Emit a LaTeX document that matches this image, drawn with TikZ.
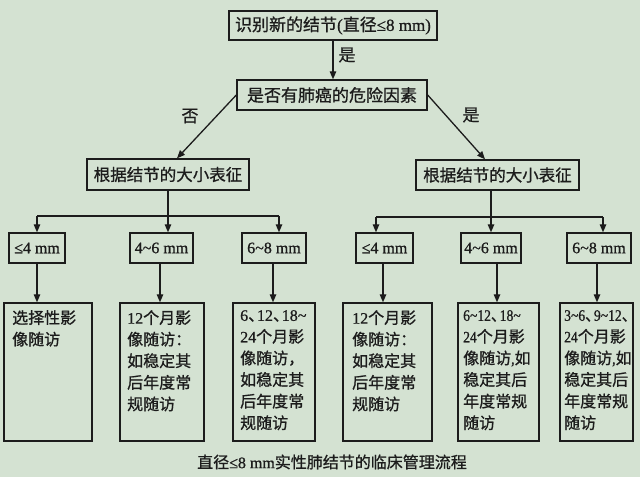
\documentclass[tikz,border=0pt]{standalone}
\usepackage{fontspec}
\usepackage{graphicx}
\setmainfont{Noto Sans CJK SC}[FakeBold=0.9]
\newfontfamily\lat{Liberation Serif}[FakeBold=0.8]
\newfontfamily\nar{Noto Sans CJK SC}[FakeBold=0.9,FakeStretch=0.92]
\newfontfamily\latn{Liberation Serif}[FakeBold=0.8,FakeStretch=0.85]
\usetikzlibrary{arrows.meta}
\definecolor{bg}{RGB}{212,226,210}
\definecolor{ink}{RGB}{28,28,28}
\newcommand{\dn}{\makebox[0.55em][l]{、}}
\newcommand{\wv}{\textasciitilde}
\begin{document}
\begin{tikzpicture}[x=1pt,y=-1pt,
  box/.style={draw=ink, line width=1.4pt, fill=bg, inner sep=0pt, text=ink},
  arr/.style={draw=ink, line width=1.3pt, -{Triangle[length=8pt,width=6.5pt]}},
  ln/.style={draw=ink, line width=1.3pt},
  txt/.style={inner sep=0pt, text=ink, anchor=north west, align=left,
              font=\fontsize{16}{21.6}\selectfont},
  lab/.style={inner sep=0pt, text=ink, font=\fontsize{17}{20}\selectfont},
  sz/.style={box, minimum height=30pt, font=\lat\fontsize{16}{18}\selectfont}]
\fill[bg] (0,0) rectangle (640,477);
\useasboundingbox (0,0) rectangle (640,477);

% top levels
\node[box, minimum width=208pt, minimum height=29pt, font=\fontsize{17}{20}\selectfont] (top) at (333,25.5)
  {识别新的结节{\lat (}直径{\lat ≤8 mm)}};
\node[box, minimum width=190pt, minimum height=30pt, font=\fontsize{17}{20}\selectfont] (risk) at (332,95)
  {是否有肺癌的危险因素};
\node[box, minimum width=162pt, minimum height=31pt, font=\fontsize{16.5}{20}\selectfont] (L) at (168,174.5)
  {根据结节的大小表征};
\node[box, minimum width=163pt, minimum height=30pt, font=\fontsize{16.5}{20}\selectfont] (R) at (497.5,175)
  {根据结节的大小表征};

\draw[arr] (top.south) -- (top.south |- risk.north);
\node[lab] (yes1) at (347,55) {是};
\draw[arr] (risk.west) -- ([xshift=9pt]L.north);
\draw[arr] (risk.east) -- ([xshift=-12.5pt]R.north);
\node[lab] (no) at (190,116) {否};
\node[lab] (yes2) at (471,115) {是};

% size boxes
\node[sz, minimum width=56pt] (a1) at (37,248) {≤4 mm};
\node[sz, minimum width=63pt] (a2) at (161.5,248) {4\wv6 mm};
\node[sz, minimum width=64pt] (a3) at (274,248) {6\wv8 mm};
\node[sz, minimum width=57pt] (b1) at (384.5,248) {≤4 mm};
\node[sz, minimum width=60pt] (b2) at (491,248) {4\wv6 mm};
\node[sz, minimum width=64pt] (b3) at (599,248) {6\wv8 mm};

\coordinate (l1) at (37,216);
\coordinate (l3) at (279,216);
\coordinate (r1) at (376,217);
\coordinate (r3) at (603,217);
\draw[arr] (L.south) -- (L.south |- a2.north);
\draw[ln] (l1) -- (l3);
\draw[arr] (l1) -- (l1 |- a1.north);
\draw[arr] (l3) -- (l3 |- a3.north);
\draw[arr] (R.south -| b2) -- (b2.north);
\draw[ln] (r1) -- (r3);
\draw[arr] (r1) -- (r1 |- b1.north);
\draw[arr] (r3) -- (r3 |- b3.north);

% bottom boxes
\node[box, minimum width=88pt, minimum height=138pt] (c1) at (48,372) {};
\node[box, minimum width=84pt, minimum height=138pt] (c2) at (162,372) {};
\node[box, minimum width=82pt, minimum height=138pt] (c3) at (274,372) {};
\node[box, minimum width=89pt, minimum height=138pt] (d1) at (387.5,372) {};
\node[box, minimum width=81pt, minimum height=138pt] (d2) at (498.5,372) {};
\node[box, minimum width=73pt, minimum height=138pt] (d3) at (596.5,372) {};

\coordinate (x1) at (37,0);
\coordinate (x2) at (160,0);
\coordinate (x3) at (273,0);
\coordinate (x4) at (383,0);
\coordinate (x5) at (497,0);
\coordinate (x6) at (597,0);
\draw[arr] (a1.south -| x1) -- (c1.north -| x1);
\draw[arr] (a2.south -| x2) -- (c2.north -| x2);
\draw[arr] (a3.south -| x3) -- (c3.north -| x3);
\draw[arr] (b1.south -| x4) -- (d1.north -| x4);
\draw[arr] (b2.south -| x5) -- (d2.north -| x5);
\draw[arr] (b3.south -| x6) -- (d3.north -| x6);

\node[txt] (c1t) at (12,310) {选择性影\\像随访};
\node[txt] (c2t) at (127,310) {{\lat 12}个月影\\像随访：\\如稳定其\\后年度常\\规随访};
\node[txt] (c3t) at (240,310) {{\lat 6}\dn{\lat 12}\dn{\lat 18\wv}\\{\lat 24}个月影\\像随访，\\如稳定其\\后年度常\\规随访};
\node[txt] (d1t) at (352,310) {{\lat 12}个月影\\像随访：\\如稳定其\\后年度常\\规随访};
\node[txt] (d2t) at (463,310) {\nar{\latn 6\wv12}\dn{\latn 18\wv}\\{\latn 24}个月影\\像随访{\latn ,}如\\稳定其后\\年度常规\\随访};
\node[txt] (d3t) at (564,310) {\nar{\latn 3\wv6}\dn{\latn 9\wv12}\dn\\{\latn 24}个月影\\像随访{\latn ,}如\\稳定其后\\年度常规\\随访};

\node[lab, font=\fontsize{16}{20}\selectfont] (cap) at (332,462) {直径{\lat ≤8 mm}实性肺结节的临床管理流程};
\end{tikzpicture}
\end{document}
